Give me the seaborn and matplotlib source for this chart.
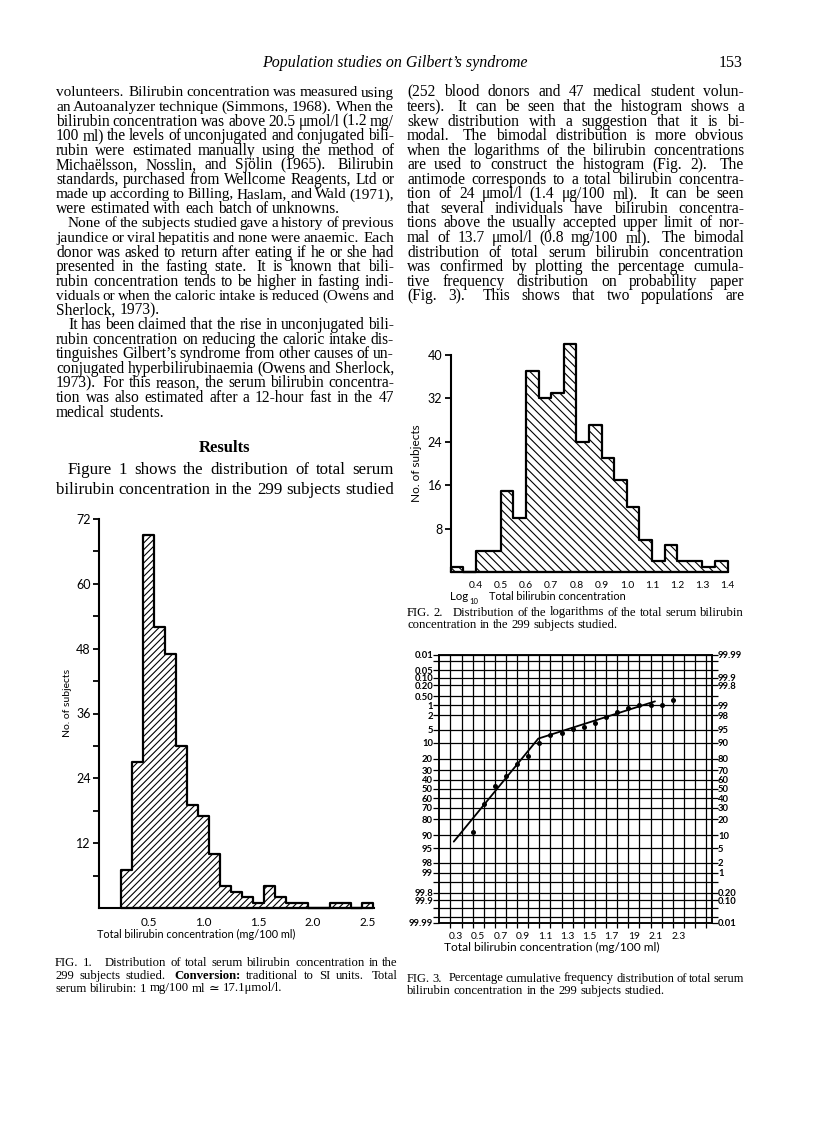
import numpy as np
import pandas as pd
import matplotlib
matplotlib.use("Agg")
import matplotlib.pyplot as plt
import seaborn as sns
from statistics import NormalDist

# ---- values ----

# Fig 1: total bilirubin (mg/100 ml), bins of 0.1 starting at 0.25
fig1_counts = [7, 27, 69, 52, 47, 30, 19, 17, 10, 4, 3, 2, 1, 4, 2, 1, 1, 0, 0, 1, 1, 0, 1]
fig1_xticks = [0.5, 1.0, 1.5, 2.0, 2.5]
fig1_xlabels = ["0.5", "1.0", "1.5", "2.0", "2.5"]
fig1_yticks = [12, 24, 36, 48, 60, 72]

# Fig 2: log10 total bilirubin, bins of 0.05 starting at 0.30
fig2_counts = [1, 0, 4, 4, 15, 10, 37, 32, 33, 42, 24, 27, 21, 17, 12, 6, 2, 5, 2, 2, 1, 2]
fig2_xticks = [0.4, 0.5, 0.6, 0.7, 0.8, 0.9, 1.0, 1.1, 1.2, 1.3, 1.4]
fig2_xlabels = ["0.4", "0.5", "0.6", "0.7", "0.8", "0.9", "1.0", "1.1", "1.2", "1.3", "1.4"]
fig2_yticks = [8, 16, 24, 32, 40]

# Fig 3: cumulative % on probability paper
fig3_x = [0.45, 0.55, 0.65, 0.75, 0.85, 0.95, 1.05, 1.15, 1.25, 1.35,
          1.45, 1.55, 1.65, 1.75, 1.85, 1.95, 2.05, 2.15, 2.25]
fig3_pct = [11.4, 33.9, 53.7, 64.0, 75.5, 81.7, 90.0, 93.2, 94.1, 95.2,
            95.8, 96.6, 97.7, 98.4, 98.8, 99.0, 99.0, 99.0, 99.3]
fig3_fit_x = [0.28, 1.04, 2.09]
fig3_fit_pct = [7.2, 91.9, 99.25]
fig3_xticks = [0.3, 0.5, 0.7, 0.9, 1.1, 1.3, 1.5, 1.7, 1.9, 2.1, 2.3]
fig3_xlabels = ["0.3", "0.5", "0.7", "0.9", "1.1", "1.3", "1.5", "1.7", "19", "2.1", "2.3"]
fig3_lines = [0.01, 0.02, 0.05, 0.1, 0.2, 0.5, 1, 2, 5, 10, 20, 30, 40, 50, 60, 70,
              80, 90, 95, 98, 99, 99.5, 99.8, 99.9, 99.95, 99.98, 99.99]
left_q = [99.99, 99.95, 99.9, 99.8, 99.5, 99, 98, 95, 90, 80, 70, 60, 50, 40, 30,
          20, 10, 5, 2, 1, 0.2, 0.1, 0.01]
left_lab = ["0.01", "0.05", "0.10", "0.20", "0.50", "1", "2", "5", "10", "20", "30", "40",
            "50", "60", "70", "80", "90", "95", "98", "99", "99.8", "99.9", "99.99"]
right_q = [99.99, 99.9, 99.8, 99, 98, 95, 90, 80, 70, 60, 50, 40, 30, 20, 10, 5, 2, 1,
           0.2, 0.1, 0.01]
right_lab = ["99.99", "99.9", "99.8", "99", "98", "95", "90", "80", "70", "60", "50", "40",
             "30", "20", "10", "5", "2", "1", "0.20", "0.10", "0.01"]

# ---- page text ----
left_text = [
    "volunteers.  Bilirubin concentration was measured using",
    "an Autoanalyzer technique (Simmons, 1968).  When the",
    "bilirubin concentration was above 20.5 μmol/l (1.2 mg/",
    "100 ml) the levels of unconjugated and conjugated bili-",
    "rubin were estimated manually using the method of",
    "Michaëlsson, Nosslin, and Sjölin (1965).  Bilirubin",
    "standards, purchased from Wellcome Reagents, Ltd or",
    "made up according to Billing, Haslam, and Wald (1971),",
    "were estimated with each batch of unknowns.|",
    ">None of the subjects studied gave a history of previous",
    "jaundice or viral hepatitis and none were anaemic.  Each",
    "donor was asked to return after eating if he or she had",
    "presented in the fasting state.  It is known that bili-",
    "rubin concentration tends to be higher in fasting indi-",
    "viduals or when the caloric intake is reduced (Owens and",
    "Sherlock, 1973).|",
    ">It has been claimed that the rise in unconjugated bili-",
    "rubin concentration on reducing the caloric intake dis-",
    "tinguishes Gilbert’s syndrome from other causes of un-",
    "conjugated hyperbilirubinaemia (Owens and Sherlock,",
    "1973).  For this reason, the serum bilirubin concentra-",
    "tion was also estimated after a 12-hour fast in the 47",
    "medical students.|",
]
right_text = [
    "(252 blood donors and 47 medical student volun-",
    "teers).  It can be seen that the histogram shows a",
    "skew distribution with a suggestion that it is bi-",
    "modal.  The bimodal distribution is more obvious",
    "when the logarithms of the bilirubin concentrations",
    "are used to construct the histogram (Fig. 2).  The",
    "antimode corresponds to a total bilirubin concentra-",
    "tion of 24 μmol/l (1.4 μg/100 ml).  It can be seen",
    "that several individuals have bilirubin concentra-",
    "tions above the usually accepted upper limit of nor-",
    "mal of 13.7 μmol/l (0.8 mg/100 ml).  The bimodal",
    "distribution of total serum bilirubin concentration",
    "was confirmed by plotting the percentage cumula-",
    "tive frequency distribution on probability paper",
    "(Fig. 3).  This shows that two populations are",
]
results_text = [">Figure 1 shows the distribution of total serum",
                "bilirubin concentration in the 299 subjects studied"]
cap1 = ["FIG. 1.  Distribution of total serum bilirubin concentration in the",
        "299 subjects studied.  *Conversion: traditional to SI units.  Total",
        "serum bilirubin: 1 mg/100 ml ≃ 17.1μmol/l.|"]
cap2 = ["FIG. 2.  Distribution of the logarithms of the total serum bilirubin",
        "concentration in the 299 subjects studied.|"]
cap3 = ["FIG. 3.  Percentage cumulative frequency distribution of total serum",
        "bilirubin concentration in the 299 subjects studied.|"]

# ---- style ----
sns.set_theme(style="white", rc={"axes.edgecolor": "black", "text.color": "black",
                                 "xtick.color": "black", "ytick.color": "black",
                                 "axes.labelcolor": "black"})
SANS = ["Lato", "DejaVu Sans"]
SERIF = ["Liberation Serif", "DejaVu Serif"]
plt.rcParams["font.family"] = SANS
plt.rcParams["hatch.linewidth"] = 0.8

W, H = 816, 1142
fig = plt.figure(figsize=(W / 100, H / 100), dpi=100, facecolor="white")
renderer = fig.canvas.get_renderer()


def box(x0, y0, x1, y1):
    return [x0 / W, 1 - y1 / H, (x1 - x0) / W, (y1 - y0) / H]


def put(x, y, s, size, family=SANS, **kw):
    kw.setdefault("va", "center")
    return fig.text(x / W, 1 - y / H, s, fontsize=size, family=family, **kw)


def text_line(x0, x1, y, s, size, indent=12):
    justify = not s.endswith("|")
    s = s.rstrip("|")
    if s.startswith(">"):
        x0 += indent
        s = s[1:]
    words = s.split()
    gaps = []
    for i in range(len(words) - 1):
        nxt = words[i + 1].lstrip("*")
        if i == 1 and words[0] == "FIG.":
            gaps.append(3)
        elif words[i].endswith(".") and nxt[0].isupper():
            gaps.append(1.6)
        else:
            gaps.append(1)
    arts = []
    for w in words:
        wt = "bold" if w.startswith("*") else "normal"
        arts.append(fig.text(0, 1 - (y + 3.5) / H, w.lstrip("*"), fontsize=size,
                             family=SERIF, weight=wt, va="baseline"))
    widths = [a.get_window_extent(renderer).width for a in arts]
    space = 0.25 * size * 100 / 72
    # shrink a line that would not fit with plain word spaces
    need = sum(widths) + 0.75 * space * sum(gaps)
    if need > x1 - x0:
        k = (x1 - x0) / need
        for a in arts:
            a.set_fontsize(size * k)
        widths = [a.get_window_extent(renderer).width for a in arts]
        space *= k
    unit = space
    if justify and gaps:
        unit = (x1 - x0 - sum(widths)) / sum(gaps)
    x = x0
    for i, a in enumerate(arts):
        a.set_x(x / W)
        if i < len(gaps):
            x += widths[i] + unit * gaps[i]


def block(lines, x0, x1, y0, step, size):
    for k, s in enumerate(lines):
        text_line(x0, x1, y0 + k * step, s, size)


# header and body
put(395, 63, "Population studies on Gilbert’s syndrome", 11.5, family=SERIF,
    style="italic", ha="center")
put(743, 63, "153", 11.5, family=SERIF, ha="right")
block(left_text, 56, 394, 93, 14.55, 11.2)
block(right_text, 407, 744, 93, 14.55, 11.2)
put(225, 448, "Results", 12, family=SERIF, weight="bold", ha="center")
block(results_text, 56, 394, 470, 20, 12.2)
block(cap1, 55, 398, 963, 12.5, 9.2)
block(cap2, 407, 744, 612, 12.5, 9.2)
block(cap3, 407, 744, 978, 12.5, 9.2)


def hatched_hist(ax, edges, counts, hatch):
    centers = (edges[:-1] + edges[1:]) / 2
    df = pd.DataFrame({"x": centers, "n": counts})
    sns.histplot(data=df, x="x", weights="n", bins=list(edges), element="step", fill=True,
                 color="black", facecolor="white", edgecolor="black", linewidth=1.6,
                 hatch=hatch, clip_on=False, ax=ax)
    ax.set_xlabel("")
    ax.set_ylabel("")
    ax.spines[["top", "right"]].set_visible(False)
    ax.spines[["left", "bottom"]].set_linewidth(1.5)


# ---- Fig 1 ----
ax1 = fig.add_axes(box(99, 519, 374, 908))
hatched_hist(ax1, np.round(np.arange(0.25, 2.56, 0.1), 2), fig1_counts, "/////")
ax1.set_xlim(0.05, 2.555)
ax1.set_ylim(0, 72)
ax1.set_yticks(fig1_yticks)
ax1.set_yticks(np.arange(6, 72, 12), minor=True)
ax1.set_xticks(fig1_xticks, fig1_xlabels)
ax1.tick_params(axis="y", which="both", left=True, direction="out", length=4.5,
                width=1.3, labelsize=9, pad=1.5)
ax1.tick_params(axis="x", bottom=False, labelsize=8.5, pad=0.3)
put(67, 703, "No. of subjects", 7.5, rotation=90, ha="center")
put(97, 934, "Total bilirubin concentration (mg/100 ml)", 7.8)

# ---- Fig 2 ----
ax2 = fig.add_axes(box(450.5, 354.6, 727.5, 572.3))
hatched_hist(ax2, np.round(np.arange(0.30, 1.401, 0.05), 2), fig2_counts, "\\\\\\\\")
ax2.set_xlim(0.3, 1.4)
ax2.set_ylim(0, 40)
ax2.set_yticks(fig2_yticks)
ax2.set_xticks(fig2_xticks, fig2_xlabels)
ax2.tick_params(axis="y", left=True, direction="out", length=4.5, width=1.3,
                labelsize=9, pad=1.5)
ax2.tick_params(axis="x", bottom=False, labelsize=7.4, pad=0)
put(416, 463, "No. of subjects", 8.5, rotation=90, ha="center")
put(450, 597, "Log", 8.3)
put(469.5, 601, "10", 5.5)
put(489, 596, "Total bilirubin concentration", 7.8)

# ---- Fig 3 ----
ax3 = fig.add_axes(box(439.3, 655, 711.7, 923))
sns.lineplot(x=fig3_fit_x, y=fig3_fit_pct, color="black", lw=1.3, errorbar=None,
             ax=ax3, zorder=3)
sns.scatterplot(x=fig3_x, y=fig3_pct, color="black", s=13, linewidth=0, ax=ax3,
                zorder=4, clip_on=False)
nd = NormalDist()
fwd = np.vectorize(lambda q: nd.inv_cdf(min(max(q / 100, 1e-7), 1 - 1e-7)), otypes=[float])
inv = np.vectorize(lambda z: nd.cdf(z) * 100, otypes=[float])
ax3r = ax3.twinx()
for a in (ax3, ax3r):
    a.set_yscale("function", functions=(fwd, inv))
    a.set_ylim(0.01, 99.99)
    a.set_yticks(fig3_lines, minor=True)
    a.yaxis.set_minor_formatter(plt.NullFormatter())
    for s in a.spines.values():
        s.set_linewidth(1.1)
ax3.set_xlim(0.15, 2.6)
ax3.set_yticks(left_q, left_lab)
ax3r.set_yticks(right_q, right_lab)
ax3.set_xticks(np.round(np.arange(0.25, 2.56, 0.1), 2), minor=True)
ax3.set_xticks(fig3_xticks, fig3_xlabels)
ax3.xaxis.set_minor_formatter(plt.NullFormatter())
ax3.grid(which="both", axis="y", color="black", lw=0.9)
ax3.grid(which="minor", axis="x", color="black", lw=0.9)
ax3.tick_params(axis="y", which="both", left=True, direction="out", length=4,
                width=0.9, labelsize=6.8, pad=0.5)
ax3r.tick_params(axis="y", which="both", right=True, direction="out", length=4,
                 width=0.9, labelsize=6.8, pad=0.5)
ax3.tick_params(axis="x", which="minor", bottom=True, direction="out", length=3.5, width=0.9)
ax3.tick_params(axis="x", which="major", bottom=False, labelsize=7.4, pad=0.5)
for lab in ax3.get_yticklabels() + ax3r.get_yticklabels():
    lab.set_fontweight("bold")
ax3.set_xlabel("")
ax3.set_ylabel("")
put(552, 947, "Total bilirubin concentration (mg/100 ml)", 8.6, ha="center")

fig.savefig("out.png", dpi=100, facecolor="white")
